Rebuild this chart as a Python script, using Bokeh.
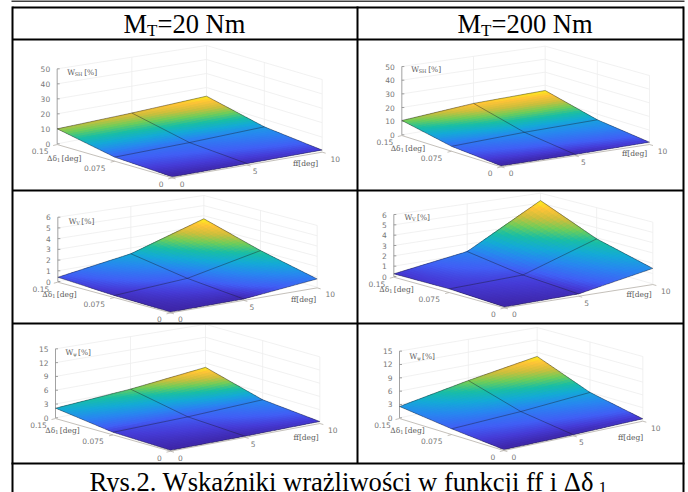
from bokeh.plotting import figure
from bokeh.models import Range1d, ColumnDataSource
from bokeh.core.properties import value
from bokeh.embed import file_html
from bokeh.resources import INLINE

# ---------- data ----------
ff_ticks = [0, 5, 10]
dd_ticks = [0, 0.075, 0.15]
dd_labels = ["0", "0.075", "0.15"]

# rows: dd = 0, 0.075, 0.15; columns: ff = 0, 5, 10
w_sh_20 = [[0.2, 0.5, 1.0], [2.2, 3.0, 4.7], [10.0, 11.5, 13.8]]
w_sh_200 = [[0.2, 0.4, 1.2], [3.0, 4.9, 5.8], [10.5, 14.7, 15.9]]
w_v_20 = [[0.02, 0.06, 0.8], [0.12, 0.56, 2.07], [0.4, 1.45, 3.7]]
w_v_200 = [[0.02, 0.15, 1.5], [0.28, 0.48, 2.9], [0.26, 1.27, 5.25]]
w_p_20 = [[0.05, 0.1, 0.3], [0.4, 0.7, 1.4], [2.1, 3.2, 5.0]]
w_p_200 = [[0.05, 0.1, 0.4], [1.1, 1.8, 3.0], [2.55, 5.4, 8.0]]

z_ticks_sh = [0, 10, 20, 30, 40, 50]
z_ticks_v = [0, 1, 2, 3, 4, 5, 6]
z_ticks_p = [0, 3, 6, 9, 12, 15]

header_left = "=20 Nm"
header_right = "=200 Nm"
caption = "Rys.2. Wskaźniki wrażliwości w funkcji ff i Δδ"

# ---------- colormap ----------
STOPS = [0, 0.06, 0.125, 0.25, 0.375, 0.5, 0.625, 0.75, 0.875, 1]
PARULA = [(62, 38, 168), (70, 60, 215), (65, 95, 245), (40, 135, 240), (20, 170, 215), (25, 190, 165),
          (110, 205, 90), (205, 190, 60), (255, 195, 55), (249, 251, 21)]


def cmap(t):
    t = max(0.0, min(1.0, t))
    i = 0
    while i < len(STOPS) - 2 and t > STOPS[i + 1]:
        i += 1
    f = (t - STOPS[i]) / (STOPS[i + 1] - STOPS[i])
    c = [round(PARULA[i][k] * (1 - f) + PARULA[i + 1][k] * f) for k in range(3)]
    return "#%02x%02x%02x" % tuple(c)


# ---------- panel layout (page pixels) ----------
def zoomed(ox, oy, pts):
    return [(ox + x / 3, oy + y / 3) for x, y in pts]


PANELS = [
    dict(z=w_sh_20, ticks=z_ticks_sh, sub="SH", c=zoomed(0, 0, [(170, 430), (515, 530), (965, 453), (618, 345)]),
         h=[75, 78, 72, 70], wl=zoomed(0, 0, [(200, 215)])[0], dl=zoomed(0, 0, [(192, 473)])[0], fl=zoomed(0, 0, [(915, 490)])[0]),
    dict(z=w_sh_200, ticks=z_ticks_sh, sub="SH", c=zoomed(344, 0, [(172, 403), (470, 497), (915, 430), (602, 332)]),
         h=[68.3, 71.5, 68.3, 65], wl=zoomed(344, 0, [(200, 208)])[0], dl=zoomed(344, 0, [(191, 443)])[0], fl=zoomed(344, 0, [(870, 460)])[0]),
    dict(z=w_v_20, ticks=z_ticks_v, sub="V", c=zoomed(0, 185, [(172, 288), (510, 380), (950, 305), (610, 212)]),
         h=[64.3, 67, 61.7, 60.7], wl=zoomed(0, 185, [(205, 107)])[0], dl=zoomed(0, 185, [(178, 327)])[0], fl=zoomed(0, 185, [(909, 342)])[0]),
    dict(z=w_v_200, ticks=z_ticks_v, sub="V", c=zoomed(344, 185, [(148, 273), (480, 365), (925, 295), (588, 200)]),
         h=[62, 65, 61.7, 59], wl=zoomed(344, 185, [(180, 97)])[0], dl=zoomed(344, 185, [(157, 312)])[0], fl=zoomed(344, 185, [(884, 328)])[0]),
    dict(z=w_p_20, ticks=z_ticks_p, sub="ψ", c=zoomed(0, 340, [(165, 232), (510, 330), (958, 247), (615, 145)]),
         h=[69, 72, 66, 64.5], wl=zoomed(0, 340, [(195, 37)])[0], dl=zoomed(0, 340, [(187, 270)])[0], fl=zoomed(0, 340, [(917, 290)])[0]),
    dict(z=w_p_200, ticks=z_ticks_p, sub="ψ", c=zoomed(344, 340, [(165, 232), (478, 328), (895, 240), (578, 147)]),
         h=[66.7, 70, 64, 62], wl=zoomed(344, 340, [(195, 47)])[0], dl=zoomed(344, 340, [(190, 270)])[0], fl=zoomed(344, 340, [(858, 290)])[0]),
]

p = figure(width=688, height=492, x_range=Range1d(0, 688), y_range=Range1d(492, 0),
           x_axis_type=None, y_axis_type=None, toolbar_location=None, output_backend="svg",
           min_border=0, outline_line_color=None)
p.grid.visible = False

texts = {}


def add_text(x, y, s, size, font, color="#5c5c5c", align="left", base="middle"):
    texts.setdefault((size, font, color, align, base), []).append((x, y, s))


SERIF = "DejaVu Serif"
SANS = "DejaVu Sans"

for P in PANELS:
    L, F, R, B = P["c"]
    hL, hF, hR, hB = P["h"]
    zmax = P["ticks"][-1]
    ffm, ddm = ff_ticks[-1], dd_ticks[-1]

    def proj(ff, dd, z):
        u, v = ff / ffm, dd / ddm
        w = [(1 - u) * v, (1 - u) * (1 - v), u * (1 - v), u * v]
        x = w[0] * L[0] + w[1] * F[0] + w[2] * R[0] + w[3] * B[0]
        y = w[0] * L[1] + w[1] * F[1] + w[2] * R[1] + w[3] * B[1]
        h = w[0] * hL + w[1] * hF + w[2] * hR + w[3] * hB
        return x, y - h * z / zmax

    # walls
    wx, wy = [], []
    for t in P["ticks"]:
        a, b, c = proj(0, ddm, t), proj(ffm, ddm, t), proj(ffm, 0, t)
        wx.append([a[0], b[0], c[0]])
        wy.append([a[1], b[1], c[1]])
    for ff, dd in [(5, ddm), (ffm, ddm), (ffm, 0.075), (ffm, 0)]:
        a, b = proj(ff, dd, 0), proj(ff, dd, zmax)
        wx.append([a[0], b[0]])
        wy.append([a[1], b[1]])
    p.multi_line(wx, wy, line_color="#ededed", line_width=0.8)

    # axes and ticks
    ax, ay = [], []
    a, b = proj(0, ddm, 0), proj(0, ddm, zmax)
    ax.append([a[0], b[0]]); ay.append([a[1], b[1]])
    for t in P["ticks"]:
        a = proj(0, ddm, t)
        ax.append([a[0], a[0] + 2.5]); ay.append([a[1], a[1]])
        add_text(a[0] - 7, a[1], str(t), "7.5px", SANS, "#777777", "right")
    p.multi_line(ax, ay, line_color="#8a8a8a", line_width=0.8)

    fx, fy = [], []
    a, b, c = proj(0, ddm, 0), proj(0, 0, 0), proj(ffm, 0, 0)
    fx.append([a[0], b[0], c[0]]); fy.append([a[1] + 0.7, b[1] + 0.7, c[1] + 0.7])
    for dd in dd_ticks:
        a = proj(0, dd, 0)
        fx.append([a[0], a[0] - 4]); fy.append([a[1] + 0.7, a[1] + 1.7])
    for ff in ff_ticks:
        a = proj(ff, 0, 0)
        fx.append([a[0], a[0] + 3.5]); fy.append([a[1] + 0.7, a[1] + 1.7])
    p.multi_line(fx, fy, line_color="#b5b0a8", line_width=0.8)

    # axis tick labels
    for dd, s, off in zip(dd_ticks, dd_labels, [(-11, 7), (-20, 7), (-17, 7)]):
        a = proj(0, dd, 0)
        add_text(a[0] + off[0], a[1] + off[1], s, "7.5px", SANS, "#777777", "center")
    for ff, off in zip(ff_ticks, [(10, 7), (8, 7), (13, 7)]):
        a = proj(ff, 0, 0)
        add_text(a[0] + off[0], a[1] + off[1], str(ff), "7.5px", SANS, "#777777", "center")

    # surface: flat cells painted back to front, each reaching over the next one
    Z = P["z"]
    zvals = [v for row in Z for v in row]
    zmin_s, zmax_s = min(zvals), max(zvals)
    N = 36

    def surf(a, b):
        a, b = min(a, 2.0), min(b, 2.0)
        i, j = min(int(a), 1), min(int(b), 1)
        s, t = a - i, b - j
        dd = dd_ticks[i] + (dd_ticks[i + 1] - dd_ticks[i]) * s
        ff = ff_ticks[j] + (ff_ticks[j + 1] - ff_ticks[j]) * t
        z = ((1 - s) * (1 - t) * Z[i][j] + (1 - s) * t * Z[i][j + 1]
             + s * (1 - t) * Z[i + 1][j] + s * t * Z[i + 1][j + 1])
        return proj(ff, dd, z) + (z,)

    xs, ys, cols = [], [], []
    d = 2.0 / N
    for m in range(N - 1, -1, -1):
        for n in range(N):
            a0, b0 = m * d, n * d
            a1, b1 = a0 + 1.7 * d, b0 + 1.7 * d
            q = [surf(a0, b0), surf(a0, (b0 + b1) / 2), surf(a0, b1), surf(a1, b1), surf(a1, b0)]
            xs.append([c[0] for c in q])
            ys.append([c[1] for c in q])
            zc = surf(a0 + d / 2, b0 + d / 2)[2]
            cols.append(cmap((zc - zmin_s) / (zmax_s - zmin_s)))
    p.patches("xs", "ys", source=ColumnDataSource(dict(xs=xs, ys=ys, c=cols)),
              fill_color="c", line_color=None)

    # surface mesh lines
    ex, ey = [], []
    for i, dd in enumerate(dd_ticks):
        q = [proj(ff, dd, Z[i][j]) for j, ff in enumerate(ff_ticks)]
        ex.append([c[0] for c in q]); ey.append([c[1] for c in q])
    for j, ff in enumerate(ff_ticks):
        q = [proj(ff, dd, Z[i][j]) for i, dd in enumerate(dd_ticks)]
        ex.append([c[0] for c in q]); ey.append([c[1] for c in q])
    p.multi_line(ex, ey, line_color="#1a1a2a", line_width=0.7, line_alpha=0.6)

    # axis labels
    x, y = P["wl"]
    wsub = 9.5 if len(P["sub"]) == 2 else 5
    add_text(x, y, "W", "7.5px", SERIF)
    add_text(x + 7.5, y + 1.5, P["sub"], "5px", SERIF)
    add_text(x + 7.5 + wsub, y, "[%]", "7.5px", SERIF)
    x, y = P["dl"]
    add_text(x - 17.5, y, "Δδ", "7.5px", SERIF)
    add_text(x - 7.5, y + 1.5, "1", "5px", SERIF)
    add_text(x - 3, y, "[deg]", "7.5px", SERIF)
    x, y = P["fl"]
    add_text(x, y, "ff[deg]", "7.5px", SERIF, align="center")

# ---------- table ----------
TX = [12, 357, 683]
TY = [7, 39, 190, 323, 463]
p.segment([TX[0]] * 4 + [11], TY[:4] + [TY[4]], [TX[2]] * 4 + [684], TY[:4] + [TY[4]], line_color="black", line_width=2)
p.segment([TX[0], TX[1], TX[2]], [6, 6, 6], [TX[0], TX[1], TX[2]], [492, TY[4], 492], line_color="black", line_width=2)
p.segment([11], [0.5], [684], [0.5], line_color="black", line_width=1.6)

H = "26.5px"
S = "17px"
SF = "Liberation Serif"
add_text(123, 23, "M", H, SF, "black")
add_text(146.5, 30, "T", S, SF, "black")
add_text(157, 23, header_left, H, SF, "black")
add_text(457, 23, "M", H, SF, "black")
add_text(480.5, 30, "T", S, SF, "black")
add_text(491, 23, header_right, H, SF, "black")
add_text(89, 481, caption, "26.6px", SF, "black")
add_text(598, 487, "1", S, SF, "black")

for (size, font, color, align, base), items in texts.items():
    p.text([i[0] for i in items], [i[1] for i in items], text=[i[2] for i in items],
           text_font=value(font), text_font_size=value(size), text_color=color,
           text_align=align, text_baseline=base)

open("out.html", "w").write(file_html(p, INLINE))
